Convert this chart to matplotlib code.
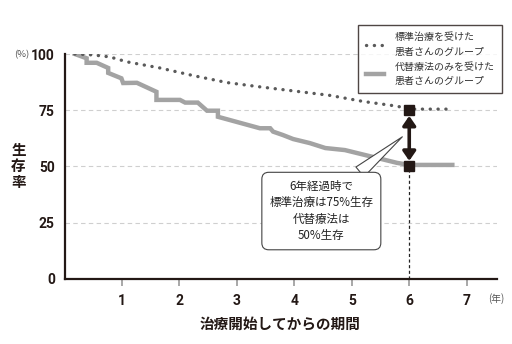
import matplotlib.pyplot as plt
from matplotlib.lines import Line2D

JP = ['Noto Sans CJK JP', 'DejaVu Sans']
NUM = ['Liberation Sans Narrow', 'Roboto', 'DejaVu Sans']
plt.rcParams['font.family'] = JP

# survival curves (years, %)
std_years = [0.18, 0.49, 0.79, 1.09, 1.66, 2.24, 2.83, 3.40, 3.98, 4.27, 4.62, 5.20, 5.79, 6.0, 6.4, 6.75]
std_surv = [100, 99.6, 98.7, 96.5, 93.8, 90.4, 87.3, 85.4, 83.6, 82.7, 81.6, 78.9, 76.8, 75.5, 75.5, 75.5]

alt_years = [0.18, 0.385, 0.385, 0.56, 0.76, 0.76, 0.99, 1.02, 1.26, 1.60, 1.60, 2.01, 2.10, 2.32,
             2.48, 2.67, 2.67, 3.40, 3.58, 3.63, 3.80, 3.98, 4.27, 4.54, 4.88, 5.79, 6.0, 6.75]
alt_surv = [100, 98.1, 96.1, 96.1, 93.8, 91.6, 89.2, 87.1, 87.2, 83.2, 79.6, 79.6, 78.4, 78.4,
            74.8, 74.8, 72.1, 67.0, 67.0, 65.5, 64.0, 62.2, 60.4, 58.2, 57.3, 51.6, 50.7, 50.7]

mark_year = 6
mark_std = 75
mark_alt = 50

y_ticks = [0, 25, 50, 75, 100]
x_ticks = [1, 2, 3, 4, 5, 6, 7]

fig = plt.figure(figsize=(5.12, 3.44), dpi=100)
ax = fig.add_axes([0.126, 0.189, 0.845, 0.654])
ax.set_xlim(0, 7.53)
ax.set_ylim(0, 100)

for y in y_ticks[1:]:
    ax.axhline(y, color='#cfcfcf', lw=0.8, ls=(0, (4, 3)), zorder=0)

ax.plot(alt_years, alt_surv, color='#a3a3a3', lw=3.2, solid_joinstyle='miter', zorder=2)
ax.plot(std_years, std_surv, color='#5a5a5a', lw=2.4, ls=(0, (0.05, 2.3)),
        dash_capstyle='round', zorder=3)

# gap marker at 6 years
ax.plot([mark_year, mark_year], [0, mark_alt], color='#222222', lw=0.9, ls=(0, (2.5, 2)), zorder=1)
ax.annotate('', xy=(mark_year, mark_std - 2.5), xytext=(mark_year, mark_alt + 2.5),
            arrowprops=dict(arrowstyle='<|-|>,head_length=0.55,head_width=0.38',
                            color='#231815', lw=2.6, shrinkA=0, shrinkB=0), zorder=4)
ax.plot([mark_year, mark_year], [mark_std, mark_alt], ls='none', marker='s', ms=7.5,
        color='#231815', zorder=5, clip_on=False)

ax.annotate('6年経過時で\n標準治療は75%生存\n代替療法は\n50%生存',
            xy=(5.88, 63.2), xytext=(4.47, 30.2), ha='center', va='center',
            fontsize=8.3, color='#222222', linespacing=1.35,
            bbox=dict(boxstyle='round,pad=0.65,rounding_size=0.6', fc='white', ec='#444444', lw=0.8),
            arrowprops=dict(arrowstyle='wedge,tail_width=1.1,shrink_factor=0.5', fc='white',
                            ec='#444444', lw=0.8, shrinkA=0, shrinkB=0,
                            relpos=(0.78, 1.0)),
            zorder=6)

for side in ['top', 'right']:
    ax.spines[side].set_visible(False)
for side in ['left', 'bottom']:
    ax.spines[side].set_color('#231815')
    ax.spines[side].set_linewidth(1.6)

ax.set_yticks(y_ticks)
ax.set_yticklabels([str(v) for v in y_ticks], family=NUM, fontsize=10,
                   fontweight='bold', color='#231815')
ax.set_xticks(x_ticks)
ax.set_xticklabels([str(v) for v in x_ticks], family=NUM, fontsize=10,
                   fontweight='bold', color='#231815')
ax.tick_params(axis='y', length=0, pad=7)
ax.tick_params(axis='x', length=5, width=1.2, color='#9a9a9a', pad=6)

fig.text(0.058, 0.84, '(%)', fontsize=6.8, color='#555555', ha='right', va='center')
fig.text(0.986, 0.133, '(年)', fontsize=7, color='#555555', ha='right', va='center')
fig.text(0.036, 0.517, '生\n存\n率', fontsize=10.5, fontweight='bold', color='#231815',
         ha='center', va='center', linespacing=1.0)
fig.text(0.547, 0.06, '治療開始してからの期間', fontsize=10.5, fontweight='bold',
         color='#231815', ha='center', va='center')

handles = [Line2D([], [], color='#5a5a5a', lw=2.4, ls=(0, (0.05, 2.3)), dash_capstyle='round'),
           Line2D([], [], color='#a3a3a3', lw=3.2)]
labels = ['標準治療を受けた\n患者さんのグループ', '代替療法のみを受けた\n患者さんのグループ']
leg = fig.legend(handles, labels, loc='upper right', bbox_to_anchor=(0.991, 0.942),
                 fontsize=7.2, frameon=True, fancybox=False, edgecolor='#231815',
                 handlelength=1.8, handletextpad=1.1, borderpad=0.75, labelspacing=0.55)
leg.get_frame().set_linewidth(1.0)
for t in leg.get_texts():
    t.set_color('#333333')
    t.set_linespacing(1.5)

fig.savefig('out.png', dpi=100)
